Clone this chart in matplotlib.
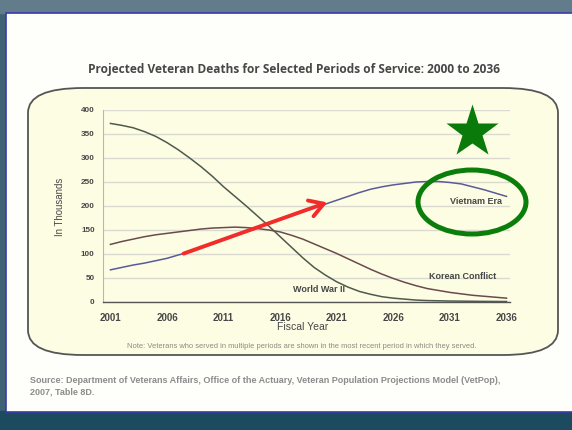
import numpy as np
import matplotlib.pyplot as plt
from matplotlib.patches import FancyBboxPatch, Ellipse, Rectangle

# ---------- data (thousands of deaths) ----------
years = list(range(2001, 2037))
wwii = [372, 368, 363, 355, 345, 332, 317, 300, 282, 262,
        240, 220, 200, 179, 158, 136, 114, 92, 72, 56,
        42, 31, 22, 16, 11, 8, 6, 4, 3, 2.5,
        2, 1.8, 1.5, 1.3, 1.1, 1]
korean = [120, 126, 131, 136, 140, 143, 146, 149, 152, 154,
          155, 156, 155, 153, 150, 146, 139, 131, 121, 111,
          101, 90, 79, 68, 58, 49, 41, 34, 28, 24,
          20, 17, 14, 12, 10, 8]
vietnam = [67, 72, 77, 81, 86, 91, 98, 104, 112, 121,
           129, 138, 146, 154, 163, 171, 180, 188, 196, 204,
           212, 220, 228, 235, 240, 244, 247, 250, 251, 251,
           249, 246, 240, 234, 227, 220]
yticks = [0, 50, 100, 150, 200, 250, 300, 350, 400]
xticks = [2001, 2006, 2011, 2016, 2021, 2026, 2031, 2036]

TXT = '#474747'
W, H = 572, 430

fig = plt.figure(figsize=(W / 100, H / 100), dpi=100)

# ---------- slide background (pixel coords) ----------
bg = fig.add_axes([0, 0, 1, 1], zorder=0)
bg.set_xlim(0, W)
bg.set_ylim(H, 0)
bg.axis('off')
bg.add_patch(Rectangle((0, 0), W, H, color='#3f6275'))
bg.add_patch(Rectangle((0, 0), W, 13, color='#627c8b'))
bg.add_patch(Rectangle((0, 411), W, 19, color='#1c4a5f'))
bg.add_patch(Rectangle((6, 12.5), W, 399, facecolor='#fefefb',
                       edgecolor='#3b3ba8', linewidth=1.2))
bg.add_patch(FancyBboxPatch((28, 88), 530, 267,
                            boxstyle='round,pad=0,rounding_size=55',
                            mutation_aspect=0.45,
                            facecolor='#fdfde4', edgecolor='#555555',
                            linewidth=1.3))

bg.text(294, 70, 'Projected Veteran Deaths for Selected Periods of Service: 2000 to 2036',
        ha='center', va='center', fontsize=8.6, family='Open Sans',
        fontweight='bold', color='#474747')
bg.text(60, 207, 'In Thousands', rotation=90, ha='center', va='center',
        fontsize=6.9, family='Liberation Sans', color=TXT)
bg.text(303, 327, 'Fiscal Year', ha='center', va='center',
        fontsize=7.5, family='Liberation Sans', color=TXT)
bg.text(302, 347, 'Note: Veterans who served in multiple periods are shown in the most recent period in which they served.',
        ha='center', va='center', fontsize=5.4, family='Liberation Sans', color='#8a8a80')
bg.text(30, 380.5, 'Source: Department of Veterans Affairs, Office of the Actuary, Veteran Population Projections Model (VetPop),',
        ha='left', va='center', fontsize=6.5, family='Liberation Sans',
        fontweight='bold', color='#8c8c8c')
bg.text(30, 392.5, '2007, Table 8D.', ha='left', va='center', fontsize=6.5,
        family='Liberation Sans', fontweight='bold', color='#8c8c8c')

# ---------- chart ----------
ax = fig.add_axes([103 / W, 1 - 302 / H, 407 / W, 192 / H], zorder=1)
ax.patch.set_alpha(0)
ax.plot(years, wwii, color='#4e5a4c', lw=1.1)
ax.plot(years, korean, color='#6b4a4e', lw=1.1)
ax.plot(years, vietnam, color='#5a5a98', lw=1.1)

ax.set_xlim(2000.34, 2036.31)
ax.set_ylim(0, 400)
ax.set_xticks(xticks)
ax.set_yticks(yticks)
ax.grid(axis='y', color='#dadad0', lw=1.0)
ax.set_axisbelow(True)
ax.tick_params(length=0, colors=TXT)
ax.tick_params(axis='x', pad=8)
ax.tick_params(axis='y', pad=6)
for lab in ax.get_xticklabels():
    lab.set(fontsize=7, family='Liberation Sans', fontweight='bold', color=TXT)
for lab in ax.get_yticklabels():
    lab.set(fontsize=5.9, family='Liberation Sans', fontweight='bold', color=TXT)
for s in ['top', 'right']:
    ax.spines[s].set_visible(False)
ax.spines['left'].set_color('#b8b8b0')
ax.spines['left'].set_linewidth(0.8)
ax.spines['bottom'].set_color('#555555')
ax.spines['bottom'].set_linewidth(1.0)

ax.text(2033.3, 209, 'Vietnam Era', ha='center', va='center', fontsize=6.5,
        family='Liberation Sans', fontweight='bold', color=TXT)
ax.text(2032.1, 54, 'Korean Conflict', ha='center', va='center', fontsize=6.5,
        family='Liberation Sans', fontweight='bold', color=TXT)
ax.text(2019.4, 26, 'World War II', ha='center', va='center', fontsize=6.5,
        family='Liberation Sans', fontweight='bold', color=TXT)

# ---------- slide annotations (pixel coords) ----------
ov = fig.add_axes([0, 0, 1, 1], zorder=2)
ov.set_xlim(0, W)
ov.set_ylim(H, 0)
ov.axis('off')
ov.patch.set_alpha(0)
ov.annotate('', xy=(330, 201.5), xytext=(181, 254.5),
            arrowprops=dict(arrowstyle='->,head_length=1.0,head_width=0.6',
                            color='#f22b2b', lw=2.8))
ov.plot([471.5], [132], marker='*', markersize=40, color='#0a7a0a', mec='none')
ov.add_patch(Ellipse((472, 202), 108, 64, fill=False, edgecolor='#0a7d0a', lw=3.6))

fig.savefig('out.png', dpi=100)
